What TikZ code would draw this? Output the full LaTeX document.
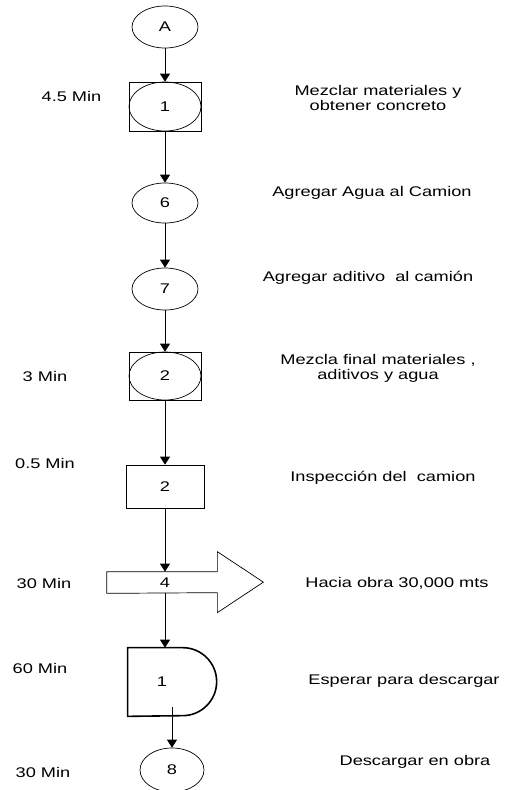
\documentclass[tikz,border=0pt]{standalone}
\usepackage{fontspec}
\setmainfont{Liberation Sans}[FakeStretch=1.3]
\usetikzlibrary{arrows.meta,shapes.geometric}

\begin{document}
\begin{tikzpicture}[x=1pt,y=1pt,line width=0.7pt,
  font=\fontsize{14}{15}\selectfont,
  >={Triangle[width=10pt,length=8pt]},
  oval/.style={draw,ellipse,minimum width=66pt,minimum height=42pt,inner sep=0pt},
  box/.style={draw,rectangle,minimum width=72pt,minimum height=48pt,inner sep=0pt},
  txt/.style={align=center}]

\useasboundingbox (0,0) rectangle (506,-790);

% chart column
\node[oval] (sA) at (165,-27) {A};
\node[box,minimum height=49pt] (s1) at (165,-106.5) {};
\node[oval,minimum width=72pt,minimum height=49pt] (o1) at (s1) {1};
\node[oval,minimum height=40pt] (s6) at (165,-203) {6};
\node[oval] (s7) at (165,-289) {7};
\node[box] (s2) at (165,-376) {};
\node[oval,minimum width=72pt,minimum height=48pt] (o2) at (s2) {2};
\node[box,minimum width=78pt,minimum height=43pt] (i2) at (165,-486.5) {2};

\node[minimum width=116pt,minimum height=21pt,inner sep=0pt] (t4) at (165,-582.5) {4};
\draw (t4.north west) -- ([xshift=-6pt]t4.north east) -- ++(0,20) -- ++(46,-30.5)
  -- ++(-46,-30.5) -- ++(0,20) -- (t4.south west) -- cycle;

\node[minimum size=68pt,inner sep=0pt] (d1) at (162,-682) {1};
\draw[line width=1.6pt] (d1.north west) -- ++(55,0) arc[start angle=90,end angle=-90,radius=34]
  -- (d1.south west) -- cycle;
\coordinate (dout) at (172,-707);
\node[oval,minimum width=64pt,minimum height=44pt] (s8) at (172,-770) {8};

\draw[->] (sA) -- (s1);
\draw[->] (s1) -- (s6);
\draw[->] (s6) -- (s7);
\draw[->] (s7) -- (s2);
\draw[->] (s2) -- (i2);
\draw[->] (i2) -- (t4);
\draw[->] (t4.south) -- (t4.south |- d1.north);
\draw[->] (dout) -- (s8);

% times
\node[txt] (m1) at (71.5,-96) {4.5 Min};
\node[txt] (m2) at (45,-376) {3 Min};
\node[txt] (m3) at (45,-463) {0.5 Min};
\node[txt] (m4) at (44,-583) {30 Min};
\node[txt] (m5) at (40,-668) {60 Min};
\node[txt] (m6) at (43,-772) {30 Min};

% activities
\node[txt] (r1) at (378,-98) {Mezclar materiales y\\obtener concreto};
\node[txt] (r2) at (372,-193) {Agregar Agua al Camion};
\node[txt] (r3) at (368,-278) {Agregar aditivo\ \ al camión};
\node[txt] (r4) at (378,-368) {Mezcla final materiales ,\\aditivos y agua};
\node[txt] (r5) at (383,-478) {Inspección del\ \ camion};
\node[txt] (r6) at (397,-583) {Hacia obra 30,000 mts};
\node[txt] (r7) at (404,-681) {Esperar para descargar};
\node[txt] (r8) at (415,-762) {Descargar en obra};
\end{tikzpicture}
\end{document}
